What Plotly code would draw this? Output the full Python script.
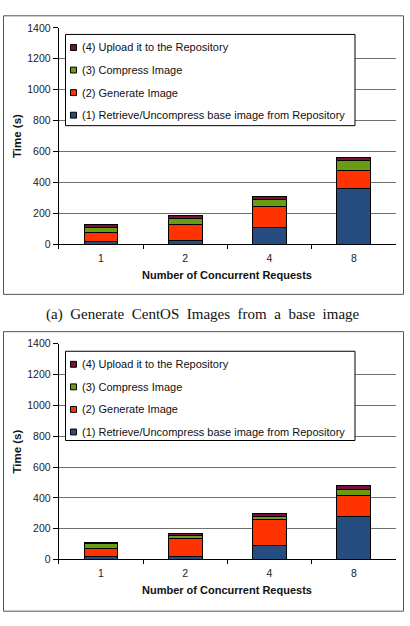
import plotly.graph_objects as go

# ---------------- data ----------------
categories = ["1", "2", "4", "8"]
series_names = [
    "(1) Retrieve/Uncompress base image from Repository",
    "(2) Generate Image",
    "(3) Compress Image",
    "(4) Upload it to the Repository",
]
a_retrieve = [18, 20, 108, 358]
a_generate = [54, 108, 133, 121]
a_compress = [35, 36, 45, 61]
a_upload = [20, 19, 23, 21]

b_retrieve = [18, 20, 91, 280]
b_generate = [55, 113, 170, 136]
b_compress = [28, 25, 21, 36]
b_upload = [6, 9, 17, 25]

y_ticks = [0, 200, 400, 600, 800, 1000, 1200, 1400]
caption = "(a)  Generate  CentOS  Images  from  a  base  image"
x_title = "Number of Concurrent Requests"
y_title = "Time (s)"

colors = ["#254D80", "#FF3300", "#6A9C12", "#7B1138"]

# ---------------- layout helpers ----------------
W, H = 410, 626


def px(x):
    return x / W


def py(y):
    return 1 - y / H


fig = go.Figure()

panels = [
    dict(vals=[a_retrieve, a_generate, a_compress, a_upload], xa="x", ya="y",
         top=22.3, bottom=242.7, box=(10, 294), leg=(29, 122)),
    dict(vals=[b_retrieve, b_generate, b_compress, b_upload], xa="x2", ya="y2",
         top=344.3, bottom=564.3, box=(332, 617), leg=(352, 443)),
]

for p in panels:
    for name, vals, col in zip(series_names, p["vals"], colors):
        fig.add_trace(go.Bar(
            x=categories, y=vals, name=name, xaxis=p["xa"], yaxis=p["ya"],
            marker=dict(color=col, line=dict(color="black", width=1)),
            showlegend=False,
        ))

x0, x1 = px(58.7), px(396)
axis_font = dict(family="Liberation Sans, Arial, sans-serif", size=10.5, color="#222")

shapes = []
annotations = []

for i, p in enumerate(panels):
    suffix = "" if i == 0 else "2"
    ydom = [py(p["bottom"]), py(p["top"])]
    fig.layout["xaxis" + suffix] = dict(
        domain=[x0, x1], anchor="y" + suffix, type="category",
        showline=True, linecolor="black", linewidth=1,
        ticks="outside", tickson="boundaries", ticklen=4, tickcolor="black",
        ticklabelstandoff=4,
        showgrid=False, tickfont=axis_font, fixedrange=True,
    )
    fig.layout["yaxis" + suffix] = dict(
        domain=ydom, anchor="x" + suffix, range=[0, 1400],
        tickvals=y_ticks, showline=True, linecolor="black", linewidth=1,
        ticks="outside", ticklen=5, tickcolor="black",
        showgrid=True, gridcolor="#707070", gridwidth=1, zeroline=False,
        tickfont=axis_font, fixedrange=True,
    )
    # outer frame
    shapes.append(dict(type="rect", xref="paper", yref="paper",
                       x0=px(3.5), x1=px(403.5), y0=py(p["box"][1]), y1=py(p["box"][0]),
                       line=dict(color="#555", width=1), fillcolor="rgba(0,0,0,0)", layer="below"))
    # axis titles
    annotations.append(dict(text="<b>" + y_title + "</b>", xref="paper", yref="paper",
                            x=px(17), y=(ydom[0] + ydom[1]) / 2, textangle=-90,
                            showarrow=False, xanchor="center", yanchor="middle",
                            font=dict(family="Liberation Sans, Arial, sans-serif", size=11.5, color="#111")))
    annotations.append(dict(text="<b>" + x_title + "</b>", xref="paper", yref="paper",
                            x=px(227), y=py(p["bottom"] + 31.5), showarrow=False,
                            xanchor="center", yanchor="middle",
                            font=dict(family="Liberation Sans, Arial, sans-serif", size=11, color="#111")))
    # manual legend
    lt, lb = p["leg"]
    shapes.append(dict(type="rect", xref="paper", yref="paper",
                       x0=px(65.5), x1=px(355), y0=py(lb), y1=py(lt),
                       line=dict(color="black", width=1), fillcolor="white"))
    for k in range(4):
        idx = 3 - k
        yc = lt + 13.3 + 23 * k
        shapes.append(dict(type="rect", xref="paper", yref="paper",
                           x0=px(70.5), x1=px(76.5), y0=py(yc + 3), y1=py(yc - 3),
                           line=dict(color="black", width=1), fillcolor=colors[idx]))
        annotations.append(dict(text=series_names[idx], xref="paper", yref="paper",
                                x=px(79.5), y=py(yc), showarrow=False,
                                xanchor="left", yanchor="middle",
                                font=dict(family="Liberation Sans, Arial, sans-serif", size=11, color="#111")))

annotations.append(dict(text=caption, xref="paper", yref="paper",
                        x=px(203), y=py(315), showarrow=False, xanchor="center", yanchor="middle",
                        font=dict(family="Liberation Serif, Times New Roman, serif", size=15, color="#111")))

fig.update_layout(
    width=W, height=H, margin=dict(l=0, r=0, t=0, b=0),
    paper_bgcolor="white", plot_bgcolor="white",
    barmode="stack", bargap=0.6, showlegend=False,
    shapes=shapes, annotations=annotations,
)

fig.write_html("out.html", config={"displayModeBar": False})
